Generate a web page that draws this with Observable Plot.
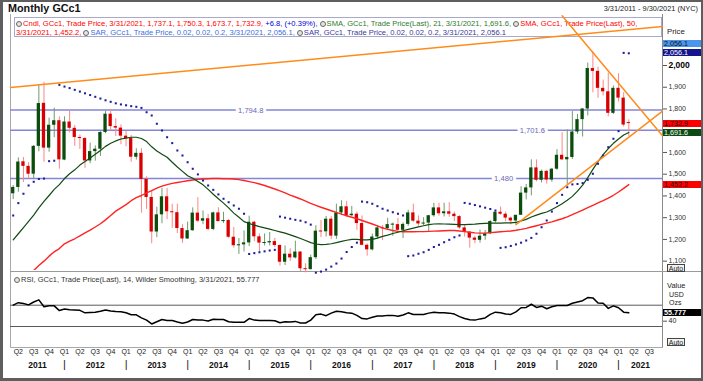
<!DOCTYPE html>
<html>
<head>
<meta charset="utf-8">
<script src="https://cdn.jsdelivr.net/npm/d3@7"></script>
<script src="https://cdn.jsdelivr.net/npm/@observablehq/plot@0.6"></script>
<style>
html,body{margin:0;padding:0;background:#fff;}
#root{position:relative;width:703px;height:381px;overflow:hidden;background:#fff;font-family:"Liberation Sans",Arial,sans-serif;color:#222;}
.a{position:absolute;white-space:nowrap;line-height:1;}
#root svg{position:absolute;left:0;overflow:visible;}
.ico{display:inline-block;width:6px;height:6px;border-radius:50%;border:1px solid #666;background:#e4e4e4;margin-right:1px;vertical-align:-1px;box-sizing:border-box;}
.badge{position:absolute;left:663px;width:38px;height:7px;font-size:7.2px;line-height:7px;padding-left:1px;box-sizing:border-box;white-space:nowrap;overflow:hidden;}
.auto{position:absolute;left:667px;width:18px;height:8px;border:1px solid #444;font-size:7px;line-height:7px;text-align:center;box-sizing:border-box;background:#f2f2f2;}
.ln{position:absolute;background:#a8a8a8;}
</style>
</head>
<body>
<div id="root"></div>
<script>
// ---------- data (monthly GCc1, Mar 2011 .. Mar 2021) ----------
const open = [1410,1439,1557,1536,1500,1628,1826,1620,1725,1746,
 1565,1740,1711,1669,1664,1561,1604,1615,1692,1776,1719,1712,
 1675,1664,1578,1596,1476,1393,1234,1313,1396,1327,1323,1250,
 1202,1240,1321,1284,1295,1246,1322,1282,1287,1210,1171,1175,
 1184,1279,1212,1183,1184,1190,1172,1095,1132,1115,1142,1065,
 1061,1116,1238,1235,1293,1215,1322,1350,1309,1316,1273,1173,
 1152,1211,1253,1249,1268,1268,1242,1269,1322,1284,1271,1275,
 1309,1345,1318,1327,1316,1305,1253,1233,1206,1196,1215,1226,
 1282,1325,1316,1298,1285,1311,1413,1437,1529,1472,1513,1473,
 1523,1587,1566,1577,1694,1751,1800,1986,1973,1895,1879,1780,
 1895,1850,1737.1];
const high = [1448,1575,1577,1553,1632,1911,1923,1758,1804,1764,
 1764,1792,1724,1680,1669,1643,1630,1695,1790,1798,1755,1727,
 1697,1678,1617,1617,1488,1424,1348,1434,1434,1362,1362,1267,
 1280,1345,1392,1331,1315,1326,1346,1325,1292,1255,1204,1239,
 1307,1283,1225,1225,1232,1205,1175,1170,1157,1192,1143,1088,
 1128,1263,1287,1306,1304,1362,1378,1375,1352,1326,1308,1179,
 1225,1264,1264,1297,1275,1297,1276,1334,1362,1308,1300,1311,
 1366,1366,1366,1369,1326,1309,1266,1237,1214,1243,1241,1286,
 1326,1349,1326,1303,1306,1442,1453,1566,1566,1519,1517,1526,
 1613,1691,1704,1788,1775,1801,2011,2063,1992,1933,1966,1906,
 1962,1875,1750.3];
const low = [1383,1417,1462,1478,1480,1603,1555,1601,1668,1523,
 1562,1690,1628,1614,1527,1548,1560,1582,1686,1700,1673,1636,
 1626,1555,1565,1321,1338,1180,1208,1272,1291,1251,1227,1182,
 1200,1238,1277,1268,1240,1240,1281,1273,1204,1160,1131,1142,
 1167,1190,1142,1170,1170,1162,1077,1080,1099,1110,1052,1046,
 1060,1107,1208,1211,1199,1200,1310,1302,1305,1242,1171,1123,
 1147,1200,1195,1244,1214,1238,1204,1260,1278,1260,1264,1237,
 1302,1307,1303,1302,1282,1246,1211,1160,1180,1183,1196,1222,
 1276,1311,1281,1267,1268,1310,1382,1400,1465,1460,1454,1463,
 1518,1564,1451,1568,1683,1671,1768,1874,1849,1860,1764,1775,
 1832,1717,1673.7];
const close = [1439,1556,1536,1500,1628,1825,1620,1725,1746,1566,
 1740,1711,1669,1664,1561,1604,1615,1692,1776,1719,1712,1675,
 1664,1578,1596,1476,1393,1234,1313,1396,1327,1323,1250,1202,
 1240,1321,1284,1295,1246,1322,1282,1287,1210,1171,1175,1184,
 1279,1212,1183,1184,1190,1172,1095,1132,1115,1142,1065,1061,
 1116,1238,1235,1293,1215,1322,1350,1309,1316,1273,1173,1152,
 1211,1253,1249,1268,1268,1242,1269,1322,1284,1271,1275,1309,
 1345,1318,1327,1316,1305,1253,1233,1206,1196,1215,1226,1282,
 1325,1316,1298,1285,1311,1413,1437,1529,1472,1513,1473,1523,
 1587,1566,1577,1694,1751,1800,1986,1973,1895,1879,1780,1895,
 1850,1726.1,1732.9];
const sma21 = [1198,1226,1254,1283,1312,1345,1375,1402,1430,1452,
 1480,1502,1520,1542,1558,1575,1592,1609,1628,1642,1653,1662,
 1666,1670,1670,1664,1650,1626,1607,1592,1578,1555,1533,1513,
 1493,1481,1466,1451,1430,1408,1387,1367,1345,1321,1302,1282,
 1273,1266,1259,1253,1247,1241,1235,1229,1221,1213,1204,1195,
 1185,1179,1176,1177,1180,1185,1191,1196,1200,1200,1198,1198,
 1200,1206,1214,1220,1227,1233,1240,1246,1252,1258,1263,1268,
 1271,1272,1271,1270,1269,1268,1268,1269,1270,1273,1274,1275,
 1275,1275,1276,1276,1278,1285,1292,1303,1312,1320,1326,1338,
 1350,1364,1380,1398,1422,1450,1484,1522,1558,1590,1618,1642,
 1662,1680,1691.6];
const sma50 = [990,1005,1022,1040,1057,1080,1100,1123,1143,1158,
 1180,1192,1203,1216,1230,1243,1257,1272,1290,1310,1330,1345,
 1360,1378,1392,1402,1414,1424,1436,1445,1452,1458,1462,1466,
 1470,1473,1476,1478,1479,1480,1480,1479,1479,1478,1475,1471,
 1466,1461,1455,1448,1440,1432,1423,1414,1404,1395,1386,1376,
 1366,1357,1348,1340,1332,1324,1316,1309,1302,1295,1287,1279,
 1271,1262,1253,1246,1241,1237,1235,1235,1235,1236,1236,1237,
 1238,1239,1240,1241,1241,1239,1236,1233,1230,1229,1229,1231,
 1233,1235,1237,1239,1242,1246,1251,1257,1263,1269,1275,1281,
 1288,1295,1304,1314,1324,1335,1346,1357,1368,1378,1390,1403,
 1418,1435,1452.2];
const sar = [1310,1367,1410,1448,1465,1478,1480,1560,1562,1911,
 1903,1896,1888,1880,1872,1864,1856,1848,1840,1833,1826,1821,
 1817,1813,1810,1805,1785,1770,1732,1701,1670,1643,1609,1586,
 1555,1525,1499,1471,1448,1428,1407,1387,1371,1356,1341,1318,
 1133,1137,1141,1145,1149,1152,1305,1300,1295,1290,1286,1279,
 1268,1047,1052,1061,1075,1089,1112,1142,1165,1185,1374,1371,
 1364,1353,1341,1333,1325,1318,1310,1123,1126,1134,1141,1152,
 1165,1175,1187,1198,1210,1218,1368,1364,1358,1352,1346,1340,
 1333,1161,1164,1170,1177,1185,1195,1207,1226,1256,1287,1328,
 1367,1405,1440,1453,1455,1459,1474,1502,1548,1586,1624,1663,
 1698,2058,2056.1];
const rsi = [70,74.8,73,70.6,76,80,67,68.8,68.8,59.9,
 62.8,61.6,61,60.4,55.7,56.3,56.9,58.7,61,59.3,58.1,57.5,
 55.7,52.1,52,46.1,42,34.8,39,43.1,41.3,41.3,38.4,36,
 38.4,43.1,42,42,40.2,43.7,43.1,43.1,39,37.8,37.8,37.8,
 44.9,42,41.3,41.3,41.3,40.7,37.2,39,38.4,39.6,36.6,36.6,
 42,52,53.3,50.3,55.1,58.7,57.5,55.7,55.1,50.9,44.9,44.3,
 47.3,49.7,49.7,50.9,50.9,49.1,51.5,55.7,52.7,52.7,52.7,55.1,
 56.9,55.7,55.7,55.1,53.3,48.5,44.9,42.5,42,44.3,46.1,52.7,
 56.9,55.7,53.3,52.7,57.5,65.2,65.8,71.8,65.8,68.2,63.4,67,
 69.4,69.4,69.4,73.6,76,78.4,84.3,83.7,74.2,73.6,64,68.8,
 65.2,56.9,55.777];
const hLevels = [1794.8, 1701.6, 1480];
const rsiBands = [70, 30];
// 1,700 is hidden behind the value badges in the reference
const priceTicks = [1100,1200,1300,1400,1500,1600,1800,1900,2000];
const rsiTicks = [40];
// trend lines: [id, start index, start price, end index, end price]
const trendLines = [["A", -0.53, 1898.8, 126.57, 2179.3], ["B", 107, 2229, 126.57, 1677], ["C", 98, 1268, 126.57, 1790]];
const yearsShown = [2011,2012,2013,2014,2015,2016,2017,2018,2019,2020,2021];

// ---------- layout ----------
const XD = [-0.526, 126.57];
const hLabelAt = [46.3, 101.2, 95.6];
const root = document.getElementById("root");
const months = d3.utcMonth.range(new Date(Date.UTC(2011,2,1)), new Date(Date.UTC(2021,3,1)));
const idxOf = (y, m) => (y - 2011) * 12 + (m - 2);
const fmt1 = d3.format(",.1f");

function div(cls, css, html) { const d = document.createElement("div"); d.className = cls; d.style.cssText = css; if (html != null) d.innerHTML = html; root.appendChild(d); return d; }

// title / header
div("a", "left:8px;top:3px;font-size:10.8px;font-weight:bold;color:#111;", "Monthly GCc1");
div("a", "right:5px;top:5px;font-size:7.4px;color:#222;", "3/31/2011 - 9/30/2021 (NYC)");

// legend box (below the svg so trend lines cross it)
const last = close.length - 1;
const chg = close[last] - close[last - 1];
div("a", "left:14px;top:17px;width:648px;height:20px;border:1px solid #a9a9c8;background:#fff;box-sizing:border-box;");
const row1 = div("a", "left:16px;top:19.5px;font-size:8px;",
 `<span class="ico"></span><span style="color:#f00">Cndl, GCc1, Trade Price, 3/31/2021, ${fmt1(open[last])}, ${fmt1(high[last])}, ${fmt1(low[last])}, ${fmt1(close[last])}, </span><span style="color:#0000e0">+${chg.toFixed(1)}, (+${(chg/close[last-1]*100).toFixed(2)}%), </span><span class="ico"></span><span style="color:#2f7a2f">SMA, GCc1, Trade Price(Last), 21, 3/31/2021, ${fmt1(sma21[last])}, </span><span class="ico"></span><span style="color:#f00">SMA, GCc1, Trade Price(Last), 50,</span>`);
const row2 = div("a", "left:16px;top:29px;font-size:8px;",
 `<span style="color:#f00">3/31/2021, ${fmt1(sma50[last])}, </span><span class="ico"></span><span style="color:#3d6fe0">SAR, GCc1, Trade Price, 0.02, 0.02, 0.2, 3/31/2021, ${fmt1(sar[last])}, </span><span class="ico"></span><span style="color:#3a3a9c">SAR, GCc1, Trade Price, 0.02, 0.02, 0.2, 3/31/2021, ${fmt1(sar[last])}</span>`);
{
  const w = row1.getBoundingClientRect().width;
  const fs = 8 * 621 / w;
  row1.style.fontSize = fs + "px"; row2.style.fontSize = fs + "px";
}

// panel frame lines
div("ln", "left:10px;top:14px;width:1px;height:333px;");
div("ln", "left:662px;top:14px;width:1px;height:333px;background:#8a8a8a;");
div("ln", "left:10px;top:271px;width:693px;height:1px;background:#9a9a9a;");
div("ln", "left:10px;top:347px;width:653px;height:1px;");

// ---------- price panel ----------
const candles = months.map((m, i) => {
  let lo = Math.min(open[i], close[i]), hi = Math.max(open[i], close[i]);
  if (hi - lo < 4.6) { const c = (hi + lo) / 2; lo = c - 2.3; hi = c + 2.3; }
  return {i, h: high[i], l: low[i], lo, hi, up: close[i] >= open[i]};
});
const line21 = sma21.map((v, i) => ({i, v}));
const line50 = sma50.map((v, i) => ({i, v}));
const sarPts = sar.map((v, i) => ({i, v}));
const trendPts = trendLines.flatMap(([id, i1, v1, i2, v2]) => [{id, i: i1, v: v1}, {id, i: i2, v: v2}]);
const orange = "#ff8c1a";

const price = Plot.plot({
  width: 703, height: 272,
  marginLeft: 10, marginRight: 41, marginTop: 14, marginBottom: 2,
  style: {background: "transparent", fontFamily: "Liberation Sans, Arial, sans-serif", color: "#333", overflow: "visible"},
  x: {type: "linear", domain: XD, axis: null},
  y: {domain: [1057, 2234.6], label: null},
  marks: [
    Plot.ruleY(hLevels, {stroke: "#8585d8", strokeWidth: 1.5}),
    Plot.text(hLevels, {x: (d, k) => hLabelAt[k], y: d => d, text: d => d3.format(",")(d), fill: "#6868b8", stroke: "white", strokeWidth: 6, fontSize: 7.6}),
    Plot.ruleX(candles.filter(d => d.up), {x: "i", y1: "l", y2: "h", stroke: "#6f9a6f", strokeWidth: 1}),
    Plot.ruleX(candles.filter(d => !d.up), {x: "i", y1: "l", y2: "h", stroke: "#ff8585", strokeWidth: 1}),
    Plot.rect(candles.filter(d => d.up), {x1: d => d.i - 0.32, x2: d => d.i + 0.32, y1: "lo", y2: "hi", fill: "#0c4c0c"}),
    Plot.rect(candles.filter(d => !d.up), {x1: d => d.i - 0.32, x2: d => d.i + 0.32, y1: "lo", y2: "hi", fill: "#d80000"}),
    Plot.line(line50, {x: "i", y: "v", stroke: "#ff2424", strokeWidth: 1.4, clip: true}),
    Plot.line(line21, {x: "i", y: "v", stroke: "#114a11", strokeWidth: 1.2}),
    Plot.dot(sarPts, {x: "i", y: "v", r: 1.15, symbol: "square", fill: "#1c1c9c", stroke: null}),
    Plot.line(trendPts, {x: "i", y: "v", z: "id", stroke: orange, strokeWidth: 1.5}),
    Plot.axisY({anchor: "right", ticks: priceTicks, tickFormat: d3.format(","), tickSize: 4, tickPadding: 2, fontSize: 7, label: null, stroke: "#555"})
  ]
});
price.style.top = "0px";
root.appendChild(price);
price.querySelectorAll("text").forEach(t => {
  if (t.textContent === "2,000") { t.style.fontWeight = "bold"; t.style.fontSize = "8.5px"; t.setAttribute("fill", "#000"); }
});
const py = price.scale("y");

// right side labels & badges (price)
div("a", "left:667px;top:28px;font-size:7.8px;color:#222;", "Price");
function badge(v, bg, fg, shift = 0) {
  const y = py.apply(v) + shift;
  div("badge", `top:${y - 3.5}px;background:${bg};color:${fg};`, fmt1(v));
}
badge(sar[last], "#4a95ee", "#111", -9);
badge(sar[last], "#14148c", "#fff");
badge(close[last], "#ff0000", "#111");
badge(sma21[last], "#0b4a12", "#fff");
badge(sma50[last], "#ff0000", "#111");
div("auto", "top:264px;", "Auto");

// ---------- RSI panel ----------
const rsiPts = rsi.map((v, i) => ({i, v}));
const quarterIdx = months.map((m, i) => ({m, i})).filter(d => d.m.getUTCMonth() % 3 === 0).map(d => d.i).concat([121, 124]);
const qLabel = i => "Q" + (Math.floor(((i + 2) % 12) / 3) + 1);
const yearRows = yearsShown.map(y => {
  const a = Math.max(idxOf(y, 0), XD[0]), b = Math.min(idxOf(y + 1, 0), XD[1]);
  return {year: String(y), xm: (a + b) / 2};
});
const sepIdx = yearsShown.slice(1).map(y => idxOf(y, 0));

const rsiPlot = Plot.plot({
  width: 703, height: 109,
  marginLeft: 10, marginRight: 41, marginTop: 1, marginBottom: 34,
  style: {background: "transparent", fontFamily: "Liberation Sans, Arial, sans-serif", color: "#222", overflow: "visible"},
  x: {type: "linear", domain: XD, label: null},
  y: {domain: [-9.4, 129.5], label: null},
  marks: [
    Plot.ruleY(rsiBands, {stroke: "#5a5a5a", strokeWidth: 1}),
    Plot.line(rsiPts, {x: "i", y: "v", stroke: "#000", strokeWidth: 1.5}),
    Plot.axisY({anchor: "right", ticks: rsiTicks, tickSize: 4, tickPadding: 2, fontSize: 7, label: null, stroke: "#555"}),
    Plot.axisX({ticks: quarterIdx, tickFormat: qLabel, tickSize: 0, tickPadding: 2, fontSize: 7, label: null}),
    Plot.text(sepIdx, {x: d => d, text: () => "|", frameAnchor: "bottom", dy: 20, fontSize: 11, fill: "#222"}),
    Plot.text(yearRows, {x: "xm", text: "year", frameAnchor: "bottom", dy: 20, fontSize: 8.5, fontWeight: "bold", fill: "#111"})
  ]
});
rsiPlot.style.top = "272px";
root.appendChild(rsiPlot);
const ry = rsiPlot.scale("y");

const rl = div("a", "left:14px;top:275.5px;font-size:7.5px;color:#333;",
 `<span class="ico"></span>RSI, GCc1, Trade Price(Last),  14, Wilder Smoothing, 3/31/2021, ${rsi[last]}`);
{ const w = rl.getBoundingClientRect().width; rl.style.fontSize = (7.5 * 246 / w) + "px"; }
div("a", "left:667px;top:282px;font-size:7.4px;color:#222;", "Value");
div("a", "left:669px;top:290.5px;font-size:7px;color:#222;", "USD");
div("a", "left:669px;top:298.5px;font-size:7px;color:#222;", "Ozs");
div("badge", `top:${272 + ry.apply(rsi[last]) - 3.5}px;background:#000;color:#fff;font-weight:bold;`, String(rsi[last]));
div("auto", "top:338px;", "Auto");

// outer frame
div("a", "left:0;top:0;width:703px;height:381px;box-sizing:border-box;border-style:solid;border-color:#5e5e5e;border-width:2px 2px 3px 3px;pointer-events:none;");
</script>
</body>
</html>
